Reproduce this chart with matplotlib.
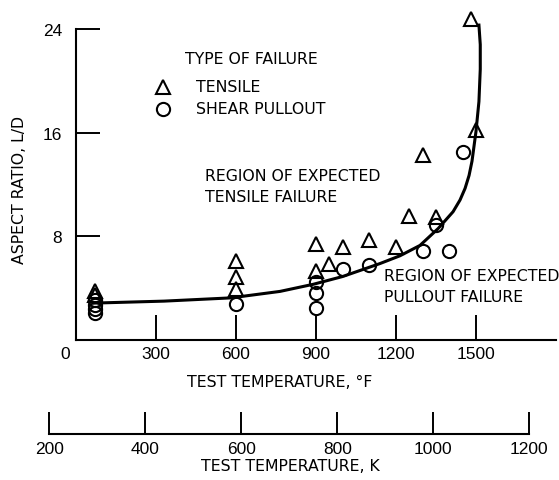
import matplotlib
matplotlib.use("Agg")
import matplotlib.pyplot as plt

# =========================
# data
# =========================
tensile_temp = [70, 70, 600, 600, 600, 900, 900, 950, 1000, 1100, 1200, 1250, 1300, 1350, 1500, 1480]
tensile_ld = [3.8, 3.5, 6.1, 4.9, 3.9, 7.4, 5.3, 5.85, 7.15, 7.7, 7.2, 9.6, 14.3, 9.5, 16.2, 24.8]

shear_temp = [70, 70, 70, 70, 600, 900, 900, 900, 1000, 1100, 1300, 1350, 1400, 1450]
shear_ld = [3.1, 2.7, 2.4, 2.1, 2.8, 4.5, 3.6, 2.5, 5.5, 5.8, 6.9, 8.85, 6.9, 14.5]

# boundary curve between the two failure regions
curve_temp = [70, 330, 580, 765, 890, 1000, 1140, 1215, 1290, 1358, 1414, 1440, 1459, 1474,
              1485, 1500, 1511, 1516, 1516, 1511]
curve_ld = [2.85, 3.0, 3.25, 3.75, 4.3, 4.9, 5.9, 6.5, 7.3, 8.6, 9.9, 10.8, 11.7, 12.7,
            13.8, 16.1, 18.4, 20.9, 22.8, 24.3]

f_ticks = [300, 600, 900, 1200, 1500]
ld_ticks = [8, 16, 24]
k_ticks = [200, 400, 600, 800, 1000, 1200]

TEXT_FONT = ["DejaVu Sans"]
NUM_FONT = ["Liberation Sans", "DejaVu Sans"]
TXT = 11.3
NUM = 12.5


def k_to_f(k):
    return (k - 273.15) * 1.8 + 32


# =========================
# figure / main axes
# =========================
W, H = 559, 481
fig = plt.figure(figsize=(W / 100, H / 100), dpi=100)

F_MAX = 1800
ax_left, ax_right = 76, 556
ax_top, ax_bot = 30, 341
ax = fig.add_axes([ax_left / W, (H - ax_bot) / H, (ax_right - ax_left) / W, (ax_bot - ax_top) / H])
ax.set_xlim(0, F_MAX)
ax.set_ylim(0, 24)

for s in ["top", "right"]:
    ax.spines[s].set_visible(False)
for s in ["left", "bottom"]:
    ax.spines[s].set_linewidth(1.5)

ax.set_xticks(f_ticks)
ax.set_xticklabels([str(t) for t in f_ticks], family=NUM_FONT, fontsize=NUM)
ax.set_yticks(ld_ticks)
ax.set_yticklabels([str(t) for t in ld_ticks], family=NUM_FONT, fontsize=NUM)
ax.tick_params(axis="x", direction="in", length=18, width=1.4, pad=4)
ax.tick_params(axis="y", direction="in", length=17, width=1.4, pad=10)
ax.annotate("0", xy=(0, 0), xytext=(-8, -10), textcoords="offset points",
            ha="center", va="center", family=NUM_FONT, fontsize=NUM)

# curve and points
ax.plot(curve_temp, curve_ld, color="black", lw=2.2, clip_on=False, zorder=2)
ax.plot(tensile_temp, tensile_ld, linestyle="none", marker="^", markersize=10,
        mfc="none", mec="black", mew=1.5, clip_on=False, zorder=3)
ax.plot(shear_temp, shear_ld, linestyle="none", marker="o", markersize=9.5,
        mfc="none", mec="black", mew=1.5, clip_on=False, zorder=3)


def axfrac(px, py):
    return (px - ax_left) / (ax_right - ax_left), (ax_bot - py) / (ax_bot - ax_top)


# legend drawn by hand
ax.text(*axfrac(185, 60), "TYPE OF FAILURE", family=TEXT_FONT, fontsize=TXT, va="center", ha="left",
        transform=ax.transAxes)
ax.plot(*axfrac(163, 88), marker="^", markersize=10, mfc="none", mec="black", mew=1.5,
        transform=ax.transAxes)
ax.text(*axfrac(196, 88), "TENSILE", family=TEXT_FONT, fontsize=TXT, va="center", ha="left",
        transform=ax.transAxes)
ax.plot(*axfrac(163, 110), marker="o", markersize=9.5, mfc="none", mec="black", mew=1.5,
        transform=ax.transAxes)
ax.text(*axfrac(196, 110), "SHEAR PULLOUT", family=TEXT_FONT, fontsize=TXT, va="center", ha="left",
        transform=ax.transAxes)

ax.text(*axfrac(205, 187), "REGION OF EXPECTED\nTENSILE FAILURE", family=TEXT_FONT, fontsize=TXT,
        va="center", ha="left", linespacing=1.5, transform=ax.transAxes)
ax.text(*axfrac(384, 287), "REGION OF EXPECTED\nPULLOUT FAILURE", family=TEXT_FONT, fontsize=TXT,
        va="center", ha="left", linespacing=1.5, transform=ax.transAxes)

fig.text(20 / W, 1 - 190 / H, "ASPECT RATIO, L/D", rotation=90, family=TEXT_FONT, fontsize=TXT,
         ha="center", va="center")
fig.text(280 / W, 1 - 383 / H, "TEST TEMPERATURE, \u00b0F", family=TEXT_FONT, fontsize=TXT,
         ha="center", va="center")

# =========================
# kelvin scale below
# =========================
px_per_f = (ax_right - ax_left) / F_MAX
k_left = ax_left + k_to_f(k_ticks[0]) * px_per_f
k_right = ax_left + k_to_f(k_ticks[-1]) * px_per_f
k_axis_y = 435
kax = fig.add_axes([k_left / W, (H - k_axis_y) / H, (k_right - k_left) / W, 40 / H])
kax.patch.set_visible(False)
kax.set_xlim(k_ticks[0], k_ticks[-1])
for s in ["top", "right", "left"]:
    kax.spines[s].set_visible(False)
kax.spines["bottom"].set_linewidth(1.5)
kax.set_yticks([])
kax.set_xticks(k_ticks)
kax.set_xticklabels([str(t) for t in k_ticks], family=NUM_FONT, fontsize=NUM)
kax.tick_params(axis="x", direction="in", length=16, width=1.4, pad=5)

fig.text(290 / W, 1 - 467 / H, "TEST TEMPERATURE, K", family=TEXT_FONT, fontsize=TXT,
         ha="center", va="center")

fig.savefig("out.png", dpi=100)
